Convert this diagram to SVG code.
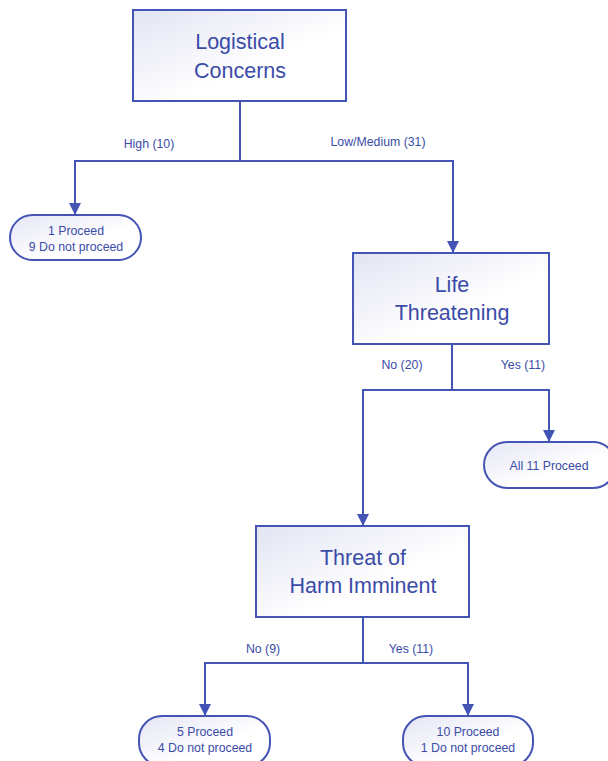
<svg xmlns="http://www.w3.org/2000/svg" width="608" height="761" viewBox="0 0 608 761">
<defs>
<linearGradient id="boxfill" x1="0" y1="0" x2="1" y2="1">
<stop offset="0" stop-color="#e2e4f3"/>
<stop offset="0.6" stop-color="#ffffff"/>
</linearGradient>
<linearGradient id="ovalfill" x1="0" y1="0" x2="1" y2="1">
<stop offset="0" stop-color="#e4e6f4"/>
<stop offset="0.6" stop-color="#ffffff"/>
</linearGradient>
<marker id="arr" viewBox="0 0 10 10" refX="10" refY="5" markerWidth="6" markerHeight="6" orient="auto" markerUnits="strokeWidth">
<path d="M0,0 L10,5 L0,10 Z" fill="#4354b5"/>
</marker>
<style>
.box{fill:url(#boxfill);stroke:#4354b5;stroke-width:2}
.oval{fill:url(#ovalfill);stroke:#4354b5;stroke-width:2}
.big{font-family:"Liberation Sans",Arial,sans-serif;font-size:21.5px;fill:#3b4ba8;text-anchor:middle}
.small{font-family:"Liberation Sans",Arial,sans-serif;font-size:12.3px;fill:#3b4ba8;text-anchor:middle}
.conn{fill:none;stroke:#4354b5;stroke-width:2}
</style>
</defs>
<rect width="608" height="761" fill="#ffffff"/>
<g id="connectors">
<path class="conn" d="M240,101 V161"/>
<path class="conn" d="M240,161 H75 V215" marker-end="url(#arr)"/>
<path class="conn" d="M240,161 H453 V253" marker-end="url(#arr)"/>
<path class="conn" d="M452,344 V390"/>
<path class="conn" d="M452,390 H363 V526" marker-end="url(#arr)"/>
<path class="conn" d="M452,390 H549 V442" marker-end="url(#arr)"/>
<path class="conn" d="M363,617 V663"/>
<path class="conn" d="M363,663 H205 V716" marker-end="url(#arr)"/>
<path class="conn" d="M363,663 H468 V716" marker-end="url(#arr)"/>
<text class="small" x="149" y="148">High (10)</text>
<text class="small" x="378" y="146">Low/Medium (31)</text>
<text class="small" x="402" y="369">No (20)</text>
<text class="small" x="523" y="369">Yes (11)</text>
<text class="small" x="263" y="653">No (9)</text>
<text class="small" x="411" y="653">Yes (11)</text>
</g>
<g id="logistical">
<rect class="box" x="133" y="10" width="213" height="91"/>
<text class="big" x="240" y="49">Logistical</text>
<text class="big" x="240" y="78">Concerns</text>
</g>
<g id="high-outcome">
<rect class="oval" x="10" y="215" width="131" height="45" rx="22.5" ry="22.5"/>
<text class="small" x="76" y="235">1 Proceed</text>
<text class="small" x="76" y="251">9 Do not proceed</text>
</g>
<g id="life">
<rect class="box" x="353" y="253" width="196" height="91"/>
<text class="big" x="452" y="292">Life</text>
<text class="big" x="452" y="320">Threatening</text>
</g>
<g id="life-yes-outcome">
<rect class="oval" x="484" y="442" width="132" height="46" rx="23" ry="23"/>
<text class="small" x="549" y="470">All 11 Proceed</text>
</g>
<g id="threat">
<rect class="box" x="256" y="526" width="213" height="91"/>
<text class="big" x="363" y="565">Threat of</text>
<text class="big" x="363" y="593">Harm Imminent</text>
</g>
<g id="threat-no-outcome">
<rect class="oval" x="139" y="716" width="131" height="50" rx="23" ry="23"/>
<text class="small" x="205" y="736">5 Proceed</text>
<text class="small" x="205" y="752">4 Do not proceed</text>
</g>
<g id="threat-yes-outcome">
<rect class="oval" x="403" y="716" width="130" height="50" rx="23" ry="23"/>
<text class="small" x="468" y="736">10 Proceed</text>
<text class="small" x="468" y="752">1 Do not proceed</text>
</g>
</svg>
